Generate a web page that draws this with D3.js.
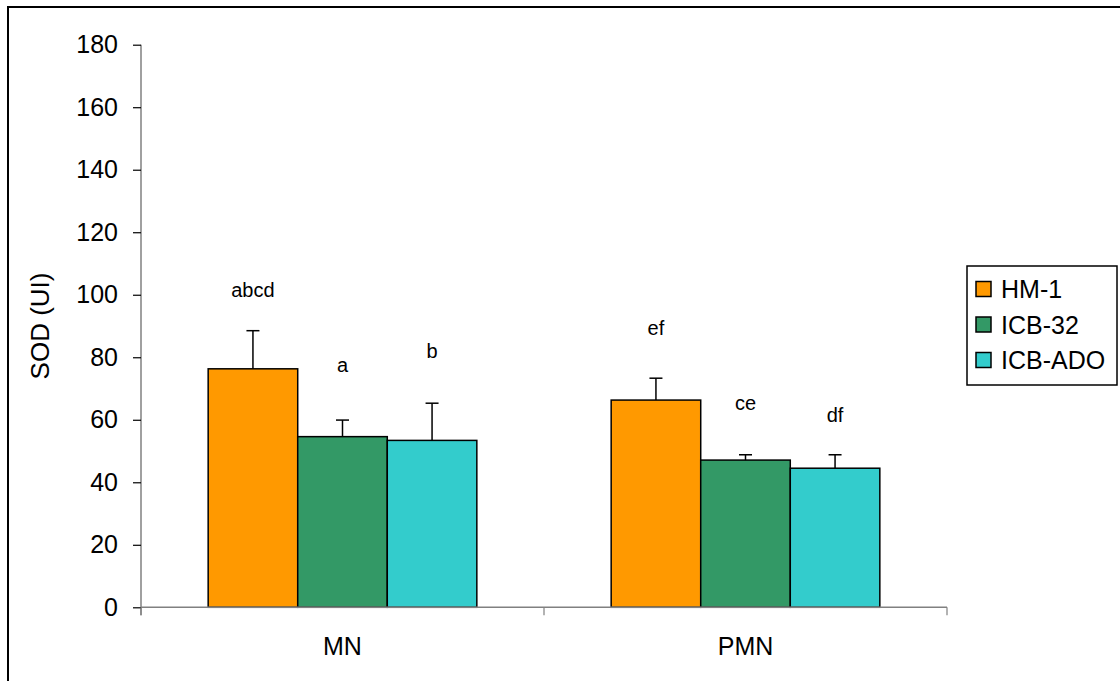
<!DOCTYPE html>
<html>
<head>
<meta charset="utf-8">
<script src="https://cdn.jsdelivr.net/npm/d3@7"></script>
<style>
  body { margin: 0; background: #fff; }
  text { font-family: Arial, "Liberation Sans", sans-serif; fill: #000; }
</style>
</head>
<body>
<script>
// chart data
var groups = ["MN", "PMN"];
var series = ["HM-1", "ICB-32", "ICB-ADO"];
var colors = ["#ff9900", "#339966", "#33cccc"];
var yTicks = [0, 20, 40, 60, 80, 100, 120, 140, 160, 180];

// mean values per series, one per group
var hm1 = [76.3, 66.3];
var icb32 = [54.6, 47.1];
var icbAdo = [53.4, 44.5];

// error bar lengths (upper only)
var hm1Err = [12.2, 7.0];
var icb32Err = [5.3, 1.7];
var icbAdoErr = [11.9, 4.3];

// significance letters and the height (in data units) they sit at
var hm1Letters = ["abcd", "ef"];
var icb32Letters = ["a", "ce"];
var icbAdoLetters = ["b", "df"];
var hm1LetterAt = [99.4, 87.1];
var icb32LetterAt = [75.4, 63.2];
var icbAdoLetterAt = [79.7, 59.4];

var values = [hm1, icb32, icbAdo];
var errs = [hm1Err, icb32Err, icbAdoErr];
var letters = [hm1Letters, icb32Letters, icbAdoLetters];
var letterAt = [hm1LetterAt, icb32LetterAt, icbAdoLetterAt];

var rows = [];
groups.forEach(function(g, gi) {
  series.forEach(function(s, si) {
    rows.push({
      group: g, series: s, si: si,
      value: values[si][gi], err: errs[si][gi],
      letter: letters[si][gi], letterAt: letterAt[si][gi]
    });
  });
});

var svgW = 1120, svgH = 681;
var plotL = 141, plotR = 947, plotT = 44.7, plotB = 607.3;

var svg = d3.select("body").append("svg")
  .attr("width", svgW)
  .attr("height", svgH);

// outer frame (runs off right and bottom edges)
svg.append("rect")
  .attr("x", 8).attr("y", 7)
  .attr("width", 1130).attr("height", 700)
  .attr("fill", "none")
  .attr("stroke", "#000")
  .attr("stroke-width", 2);

var x0 = d3.scaleBand()
  .domain(groups)
  .range([plotL, plotR])
  .paddingInner(0)
  .paddingOuter(0);

var x1 = d3.scaleBand()
  .domain(series)
  .range([x0.bandwidth() / 6, x0.bandwidth() * 5 / 6]);

var y = d3.scaleLinear()
  .domain([0, 180])
  .range([plotB, plotT]);

// y axis
var yAxis = svg.append("g")
  .attr("transform", "translate(" + plotL + ",0)")
  .call(d3.axisLeft(y).tickValues(yTicks).tickSize(8).tickPadding(15));
yAxis.select(".domain").attr("stroke", "#808080").attr("stroke-width", 1.5)
  .attr("d", "M0," + (plotB + 8) + "V" + plotT);
yAxis.selectAll(".tick line").attr("stroke", "#000").attr("stroke-width", 1.2);
yAxis.selectAll(".tick text")
  .style("font-size", "25px")
  .style("font-family", "Arial, 'Liberation Sans', sans-serif");

// y label
svg.append("text")
  .attr("transform", "translate(49," + ((plotT + plotB) / 2) + ") rotate(-90)")
  .attr("text-anchor", "middle")
  .style("font-size", "26px")
  .text("SOD (UI)");

// bars
var bars = svg.append("g");
bars.selectAll("rect")
  .data(rows)
  .enter()
  .append("rect")
  .attr("x", function(d) { return x0(d.group) + x1(d.series); })
  .attr("y", function(d) { return y(d.value); })
  .attr("width", x1.bandwidth())
  .attr("height", function(d) { return y(0) - y(d.value); })
  .attr("fill", function(d) { return colors[d.si]; })
  .attr("stroke", "#000")
  .attr("stroke-width", 1.5);

// error bars
var eb = svg.append("g").attr("stroke", "#000").attr("stroke-width", 1.5);
rows.forEach(function(d) {
  var cx = x0(d.group) + x1(d.series) + x1.bandwidth() / 2;
  eb.append("line")
    .attr("x1", cx).attr("x2", cx)
    .attr("y1", y(d.value)).attr("y2", y(d.value + d.err));
  eb.append("line")
    .attr("x1", cx - 6.5).attr("x2", cx + 6.5)
    .attr("y1", y(d.value + d.err)).attr("y2", y(d.value + d.err));
});

// letters
svg.append("g").selectAll("text")
  .data(rows)
  .enter()
  .append("text")
  .attr("x", function(d) { return x0(d.group) + x1(d.series) + x1.bandwidth() / 2; })
  .attr("y", function(d) { return y(d.letterAt); })
  .attr("text-anchor", "middle")
  .style("font-size", "20px")
  .text(function(d) { return d.letter; });

// x axis
var xAxis = svg.append("g")
  .attr("transform", "translate(0," + plotB + ")");
xAxis.append("line")
  .attr("x1", plotL).attr("x2", plotR)
  .attr("stroke", "#808080").attr("stroke-width", 1.5);
xAxis.selectAll(".xt")
  .data([plotL, x0("PMN"), plotR])
  .enter()
  .append("line")
  .attr("x1", function(d) { return d; })
  .attr("x2", function(d) { return d; })
  .attr("y1", 0).attr("y2", 8)
  .attr("stroke", "#808080").attr("stroke-width", 1.2);
xAxis.selectAll("text")
  .data(groups)
  .enter()
  .append("text")
  .attr("x", function(d) { return x0(d) + x0.bandwidth() / 2; })
  .attr("y", 48)
  .attr("text-anchor", "middle")
  .style("font-size", "25px")
  .text(function(d) { return d; });

// legend
var legend = svg.append("g").attr("transform", "translate(967,266)");
legend.append("rect")
  .attr("width", 150).attr("height", 119)
  .attr("fill", "#fff")
  .attr("stroke", "#000")
  .attr("stroke-width", 1.5);
var items = legend.selectAll(".item")
  .data(series)
  .enter()
  .append("g")
  .attr("transform", function(d, i) { return "translate(9," + (23 + i * 35.5) + ")"; });
items.append("rect")
  .attr("x", 0).attr("y", -7.5)
  .attr("width", 15).attr("height", 15)
  .attr("fill", function(d, i) { return colors[i]; })
  .attr("stroke", "#000")
  .attr("stroke-width", 1.5);
items.append("text")
  .attr("x", 25)
  .attr("y", 9)
  .style("font-size", "25px")
  .text(function(d) { return d; });
</script>
</body>
</html>
